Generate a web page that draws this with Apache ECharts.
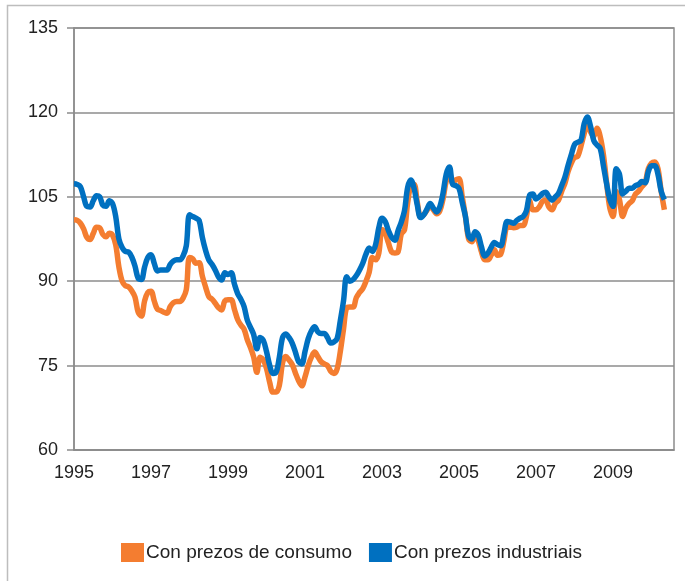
<!DOCTYPE html>
<html>
<head>
<meta charset="utf-8">
<script src="https://cdn.jsdelivr.net/npm/echarts@6/dist/echarts.min.js"></script>
<style>
  html,body{margin:0;padding:0;background:#fff;}
  #chart{width:685px;height:581px;}
</style>
</head>
<body>
<div id="chart"></div>
<script>
// monthly series, January 1995 onwards
var startYear   = 1995;
var monthCount  = 188;   // months shown on the axis (data stops a bit earlier)
var seriesNames = ['Con prezos de consumo', 'Con prezos industriais'];

var consumo = [
    100.9,100.8,100.3,99.3,97.8,97.4,98.5,99.6,99.5,98.3,97.9,98.5,
    98.2,96.5,92.5,90.0,89.2,89.0,88.3,87.2,84.5,83.8,86.5,88.0,
    88.2,86.5,85.0,84.8,84.5,84.3,85.5,86.2,86.4,86.4,87.0,88.5,
    94.2,94.0,93.2,93.3,90.9,89.0,87.3,86.8,86.1,85.3,84.9,86.5,
    86.7,86.7,85.0,83.2,82.2,81.5,79.6,78.2,76.5,73.8,76.5,76.0,
    74.5,72.0,70.3,70.3,71.5,75.5,76.6,76.0,75.2,73.7,72.3,71.4,
    73.0,75.0,76.5,77.4,76.6,75.7,75.3,75.0,74.0,73.6,74.4,77.5,
    81.5,85.3,85.4,85.4,87.1,88.0,88.7,90.0,91.6,94.2,93.8,95.0,
    99.2,98.5,96.8,95.2,95.0,95.2,98.4,99.1,104.0,107.0,107.2,104.0,
    101.5,101.8,102.6,103.4,102.7,102.0,102.5,104.6,107.8,109.3,107.5,108.0,
    108.2,105.0,101.5,97.5,97.0,98.2,97.2,95.2,93.8,93.8,94.6,95.6,
    94.6,94.8,97.2,99.6,99.6,99.5,99.6,99.9,99.9,101.5,104.4,102.7,
    102.7,103.2,104.2,104.4,103.2,102.7,103.8,104.4,106.0,107.4,109.5,111.0,
    112.0,112.2,114.0,116.2,118.1,116.5,115.8,117.2,115.7,112.5,107.5,103.0,
    101.5,106.0,104.5,101.5,103.0,103.8,104.3,105.5,106.0,106.8,107.5,110.0,
    111.0,111.2,110.0,106.0,102.7
];

var industriais = [
    107.3,107.2,106.8,105.0,103.3,103.2,104.3,105.2,105.0,103.5,103.3,104.3,
    103.8,101.5,97.5,96.0,95.3,95.2,94.3,92.7,90.5,90.3,92.5,94.2,
    94.7,93.2,91.8,92.0,92.0,92.0,93.0,93.6,93.8,93.8,94.5,96.3,
    101.8,101.5,101.2,100.8,97.8,95.5,93.8,93.0,92.0,90.8,90.2,91.5,
    91.2,91.5,89.5,87.8,86.8,85.5,83.1,81.8,80.5,78.0,80.0,79.5,
    77.5,75.0,73.6,73.8,76.5,80.0,80.6,80.0,79.0,77.4,75.7,75.3,
    77.5,79.8,81.2,81.9,81.0,80.7,80.7,80.0,79.0,79.2,79.8,83.0,
    86.5,90.8,90.0,90.3,91.0,92.0,93.2,94.8,95.9,95.3,96.5,99.5,
    101.2,100.6,99.0,97.8,97.3,99.0,100.5,102.5,106.7,108.0,106.5,103.5,
    101.3,101.8,102.8,103.8,103.0,102.3,103.2,105.6,109.0,110.3,107.2,107.0,
    106.5,104.0,101.5,98.0,97.5,98.8,98.2,96.1,94.5,95.0,96.0,96.9,
    96.5,96.3,98.5,100.6,100.5,100.3,100.8,101.2,101.5,102.5,105.3,105.5,
    104.6,105.0,105.6,105.8,105.0,104.4,105.0,105.6,107.0,108.5,110.6,112.5,
    114.3,114.7,115.0,118.0,119.2,117.5,115.0,114.2,113.6,110.5,107.3,104.5,
    103.3,110.0,109.0,105.5,106.0,106.5,106.5,107.0,107.2,107.7,107.5,109.5,
    110.5,110.5,109.0,106.0,104.5
];

var colors = ['#F47D30', '#0070C0'];

var months = [];
for (var i = 0; i < monthCount; i++) {
    months.push((startYear + Math.floor(i / 12)) + '-' + (i % 12 + 1));
}

var chart = echarts.init(document.getElementById('chart'));
var fontFam = "'Liberation Sans', Arial, sans-serif";

var option = {
    animation: false,
    color: colors,
    textStyle: {fontFamily: fontFam},
    graphic: [{
        type: 'rect',
        shape: {x: 7.5, y: 5.5, width: 720, height: 620},
        style: {fill: 'none', stroke: '#bdbdbd', lineWidth: 1.5},
        silent: true
    }],
    grid: {
        left: 74, right: 11, top: 28, bottom: 131,
        show: true, borderColor: '#8c8c8c', borderWidth: 1.5
    },
    legend: {
        top: 538,
        left: 116,
        icon: 'rect',
        itemWidth: 23,
        itemHeight: 19,
        itemGap: 17,
        textStyle: {fontSize: 19, color: '#222', fontFamily: fontFam, padding: [0, 0, 0, -3]},
        data: seriesNames
    },
    xAxis: {
        type: 'category',
        boundaryGap: false,
        data: months,
        axisLine: {lineStyle: {color: '#8c8c8c', width: 1.5}},
        axisTick: {show: false},
        axisLabel: {
            interval: function (idx) { return idx % 24 === 0; },
            formatter: function (v) { return v.split('-')[0]; },
            fontSize: 18, color: '#222', margin: 14, fontFamily: fontFam
        },
        splitLine: {show: false}
    },
    yAxis: {
        type: 'value',
        min: 60, max: 135, interval: 15,
        axisLine: {show: true, lineStyle: {color: '#8c8c8c', width: 1.5}},
        axisTick: {show: true, length: 7, lineStyle: {color: '#8c8c8c', width: 1.5}},
        axisLabel: {fontSize: 18, color: '#222', margin: 16, fontFamily: fontFam},
        splitLine: {lineStyle: {color: '#8c8c8c', width: 1.5}}
    },
    series: [{
        name: seriesNames[0],
        type: 'line',
        data: consumo,
        smooth: 0.35,
        showSymbol: false,
        lineStyle: {width: 5.5, color: colors[0]}
    }, {
        name: seriesNames[1],
        type: 'line',
        data: industriais,
        smooth: 0.35,
        showSymbol: false,
        lineStyle: {width: 5.5, color: colors[1]}
    }]
};
chart.setOption(option);
</script>
</body>
</html>
